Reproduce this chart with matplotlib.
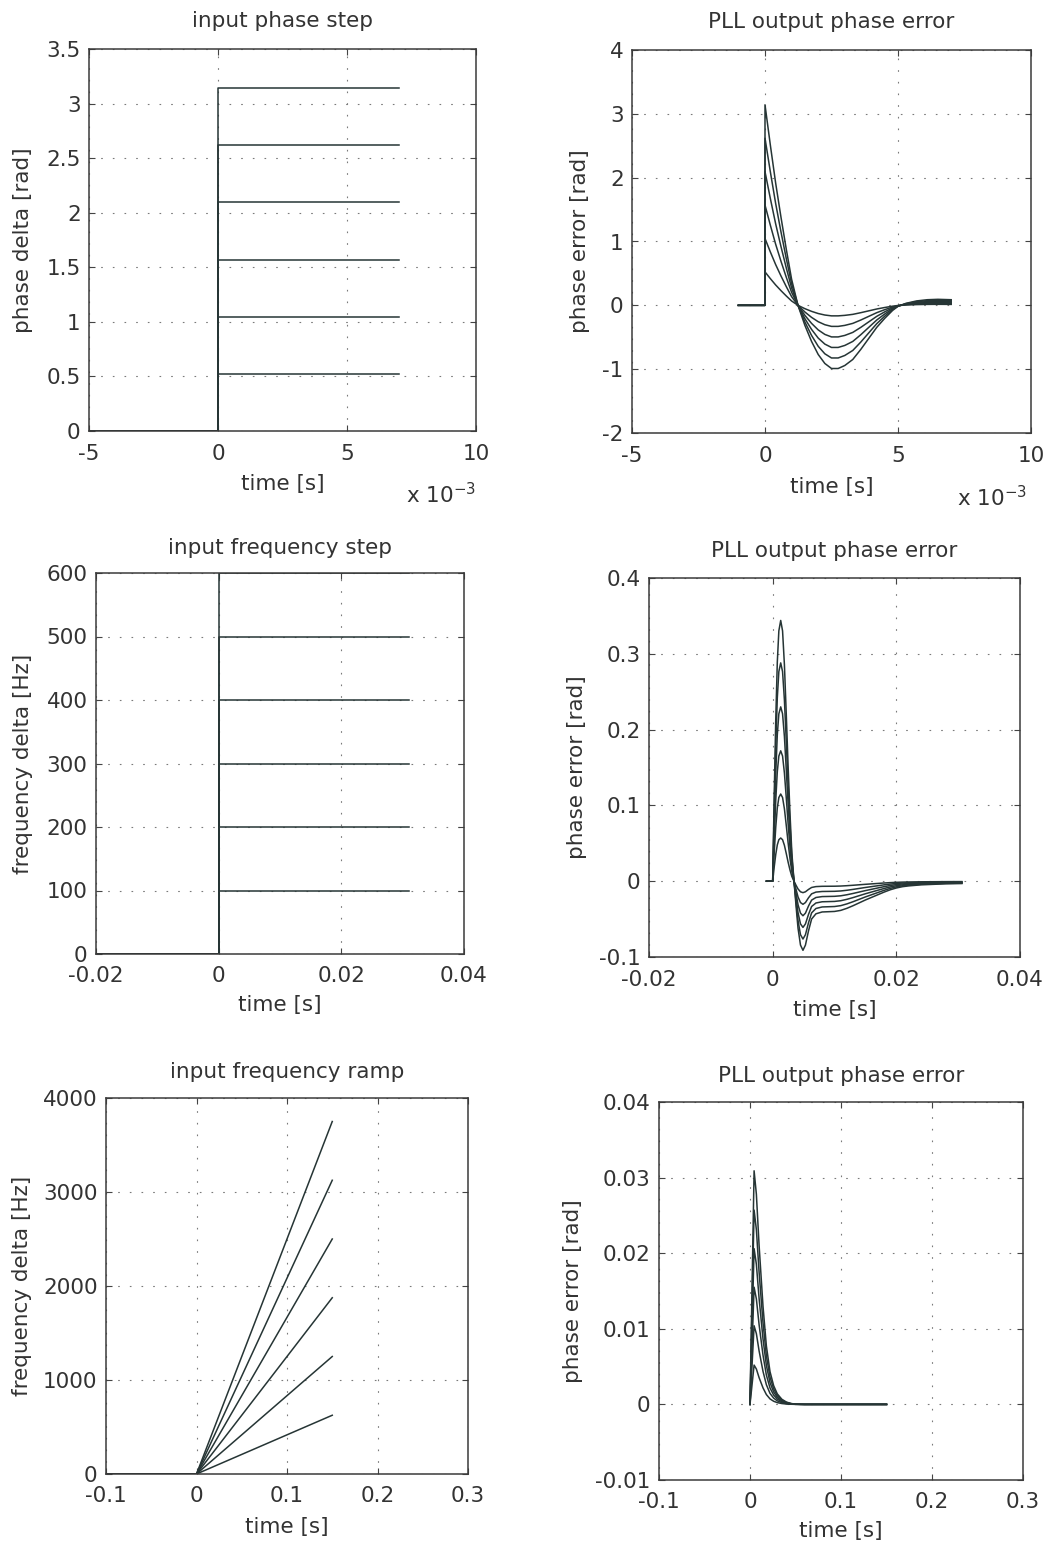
import matplotlib
matplotlib.use("Agg")
import matplotlib.pyplot as plt
import numpy as np

plt.rcParams['font.family'] = ['DejaVu Sans']
plt.rcParams['axes.unicode_minus'] = False

# ---------------- data ----------------
# top row: input phase step and PLL phase error (time in seconds)
phase_steps = [0.5236, 1.0472, 1.5708, 2.0944, 2.6180, 3.1416]
phase_t_start = -5e-3
phase_t_end = 7e-3
pe1_t = [-1.0e-3, 0.0, 0.0, 0.2e-3, 0.4e-3, 0.6e-3, 0.8e-3, 1.0e-3, 1.24e-3, 1.5e-3,
         1.75e-3, 2.0e-3, 2.25e-3, 2.5e-3, 2.75e-3, 3.0e-3, 3.3e-3, 3.6e-3, 3.9e-3,
         4.2e-3, 4.5e-3, 4.8e-3, 5.0e-3, 5.3e-3, 5.7e-3, 6.1e-3, 6.5e-3, 7.0e-3]
pe1_shape = [0.0, 0.0, 1.0, 0.80, 0.61, 0.44, 0.28, 0.13, 0.0, -0.10,
             -0.18, -0.245, -0.29, -0.315, -0.315, -0.30, -0.27, -0.22, -0.165,
             -0.11, -0.065, -0.025, -0.005, 0.01, 0.022, 0.028, 0.030, 0.028]

# middle row: input frequency step and PLL phase error
freq_steps = [100, 200, 300, 400, 500, 600]
freq_t_start = -0.02
freq_t_end = 0.031
pe2_peaks = [0.057, 0.115, 0.172, 0.230, 0.288, 0.344]
pe2_t = [-0.001, 0.0, 0.00025, 0.0005, 0.00075, 0.001, 0.0013, 0.0016, 0.0019, 0.0022,
         0.0025, 0.0028, 0.0031, 0.00345, 0.0038, 0.0041, 0.0045, 0.0049, 0.0053,
         0.0058, 0.0063, 0.007, 0.008, 0.009, 0.010, 0.011, 0.012, 0.013, 0.014,
         0.015, 0.016, 0.017, 0.018, 0.019, 0.020, 0.021, 0.022, 0.024, 0.026,
         0.028, 0.0306]
pe2_shape = [0.0, 0.0, 0.33, 0.62, 0.84, 0.96, 1.0, 0.96, 0.83, 0.64,
             0.44, 0.26, 0.11, 0.0, -0.10, -0.18, -0.245, -0.265, -0.245,
             -0.19, -0.145, -0.125, -0.118, -0.117, -0.116, -0.112, -0.104, -0.094, -0.083,
             -0.072, -0.062, -0.052, -0.042, -0.033, -0.026, -0.021, -0.018, -0.014, -0.012,
             -0.010, -0.009]

# bottom row: input frequency ramp and PLL phase error
ramp_end_freq = [625, 1250, 1875, 2500, 3125, 3750]
ramp_t_start = -0.1
ramp_t_end = 0.15
pe3_peaks = [0.0052, 0.0104, 0.0155, 0.0206, 0.0257, 0.0309]
pe3_t = [0.0, 0.0045, 0.007, 0.010, 0.0143, 0.018, 0.022, 0.026, 0.030, 0.035,
         0.040, 0.045, 0.050, 0.060, 0.150]
pe3_shape = [0.0, 1.0, 0.90, 0.68, 0.42, 0.25, 0.14, 0.08, 0.045, 0.022,
             0.010, 0.004, 0.001, 0.0, 0.0]

# axis settings
tl_xticks = [-5e-3, 0, 5e-3, 10e-3]
tl_xlabels = ['-5', '0', '5', '10']
tl_yticks = [0, 0.5, 1, 1.5, 2, 2.5, 3, 3.5]
tl_ylabels = ['0', '0.5', '1', '1.5', '2', '2.5', '3', '3.5']
tr_yticks = [-2, -1, 0, 1, 2, 3, 4]
tr_ylabels = ['-2', '-1', '0', '1', '2', '3', '4']
ml_xticks = [-0.02, 0, 0.02, 0.04]
ml_xlabels = ['-0.02', '0', '0.02', '0.04']
ml_yticks = [0, 100, 200, 300, 400, 500, 600]
ml_ylabels = ['0', '100', '200', '300', '400', '500', '600']
mr_yticks = [-0.1, 0, 0.1, 0.2, 0.3, 0.4]
mr_ylabels = ['-0.1', '0', '0.1', '0.2', '0.3', '0.4']
bl_xticks = [-0.1, 0, 0.1, 0.2, 0.3]
bl_xlabels = ['-0.1', '0', '0.1', '0.2', '0.3']
bl_yticks = [0, 1000, 2000, 3000, 4000]
bl_ylabels = ['0', '1000', '2000', '3000', '4000']
br_yticks = [-0.01, 0, 0.01, 0.02, 0.03, 0.04]
br_ylabels = ['-0.01', '0', '0.01', '0.02', '0.03', '0.04']

# ---------------- figure ----------------
W, H = 1050, 1548
fig = plt.figure(figsize=(W / 100, H / 100), dpi=100)
fig.patch.set_facecolor('white')

LC = '#263535'
TC = '#333333'
FS = 15.5


def make_ax(l, r, t, b):
    return fig.add_axes([l / W, (H - b) / H, (r - l) / W, (b - t) / H])


def style(ax, xlim, ylim, xt, xl, yt, yl, title, ylabel, ylab_x, title_off, xlab_y):
    ax.set_xlim(*xlim)
    ax.set_ylim(*ylim)
    ax.set_xticks(xt)
    ax.set_xticklabels(xl)
    ax.set_yticks(yt)
    ax.set_yticklabels(yl)
    ax.tick_params(direction='in', top=True, right=True, length=4, width=0.8,
                   colors='#444444', labelcolor=TC, labelsize=FS)
    ax.tick_params(axis='x', pad=9)
    ax.tick_params(axis='y', pad=6)
    ax.grid(True, linestyle=(0, (1.5, 9)), color='#7a7a7a', linewidth=0.8)
    for s in ax.spines.values():
        s.set_color('#3a3a3a')
        s.set_linewidth(1.1)
    ax.text(0.5, 1 + title_off, title, transform=ax.transAxes, ha='center',
            va='center', fontsize=FS, color=TC)
    ax.set_ylabel(ylabel, fontsize=FS, color=TC)
    ax.yaxis.set_label_coords(ylab_x, 0.5)
    ax.set_xlabel('time [s]', fontsize=FS, color=TC)
    ax.xaxis.set_label_coords(0.5, xlab_y)


# top-left: input phase step
ax1 = make_ax(89, 476, 49, 431)
for a in phase_steps:
    ax1.plot([phase_t_start, 0, 0, phase_t_end], [0, 0, a, a], color=LC, lw=1.1)
style(ax1, (-5e-3, 10e-3), (0, 3.5), tl_xticks, tl_xlabels, tl_yticks, tl_ylabels,
      'input phase step', 'phase delta [rad]', -0.145, 0.072, -0.113)
ax1.text(1.0, -0.19, r'x 10$^{-3}$', transform=ax1.transAxes, ha='right',
         va='baseline', fontsize=FS, color=TC)

# top-right: PLL output phase error (phase step)
ax2 = make_ax(632, 1031, 50, 433)
t1 = np.array(pe1_t)
s1 = np.array(pe1_shape)
for a in phase_steps:
    ax2.plot(t1, a * s1, color=LC, lw=1.1)
style(ax2, (-5e-3, 10e-3), (-2, 4), tl_xticks, tl_xlabels, tr_yticks, tr_ylabels,
      'PLL output phase error', 'phase error [rad]', -0.105, 0.072, -0.115)
ax2.text(0.99, -0.19, r'x 10$^{-3}$', transform=ax2.transAxes, ha='right',
         va='baseline', fontsize=FS, color=TC)

# middle-left: input frequency step
ax3 = make_ax(96, 464, 573, 954)
for f in freq_steps:
    ax3.plot([freq_t_start, 0, 0, freq_t_end], [0, 0, f, f], color=LC, lw=1.1)
style(ax3, (-0.02, 0.04), (0, 600), ml_xticks, ml_xlabels, ml_yticks, ml_ylabels,
      'input frequency step', 'frequency delta [Hz]', -0.171, 0.066, -0.108)

# middle-right: PLL output phase error (frequency step)
ax4 = make_ax(649, 1020, 578, 957)
t2 = np.array(pe2_t)
s2 = np.array(pe2_shape)
for p in pe2_peaks:
    ax4.plot(t2, p * s2, color=LC, lw=1.1)
style(ax4, (-0.02, 0.04), (-0.1, 0.4), ml_xticks, ml_xlabels, mr_yticks, mr_ylabels,
      'PLL output phase error', 'phase error [rad]', -0.167, 0.071, -0.113)

# bottom-left: input frequency ramp
ax5 = make_ax(106, 468, 1098, 1474)
for f in ramp_end_freq:
    ax5.plot([ramp_t_start, 0, ramp_t_end], [0, 0, f], color=LC, lw=1.1)
style(ax5, (-0.1, 0.3), (0, 4000), bl_xticks, bl_xlabels, bl_yticks, bl_ylabels,
      'input frequency ramp', 'frequency delta [Hz]', -0.204, 0.069, -0.114)

# bottom-right: PLL output phase error (frequency ramp)
ax6 = make_ax(659, 1023, 1102, 1480)
t3 = np.array(pe3_t)
s3 = np.array(pe3_shape)
for p in pe3_peaks:
    ax6.plot(t3, p * s3, color=LC, lw=1.1)
style(ax6, (-0.1, 0.3), (-0.01, 0.04), bl_xticks, bl_xlabels, br_yticks, br_ylabels,
      'PLL output phase error', 'phase error [rad]', -0.209, 0.069, -0.108)

fig.savefig('out.png', dpi=100, facecolor='white')
